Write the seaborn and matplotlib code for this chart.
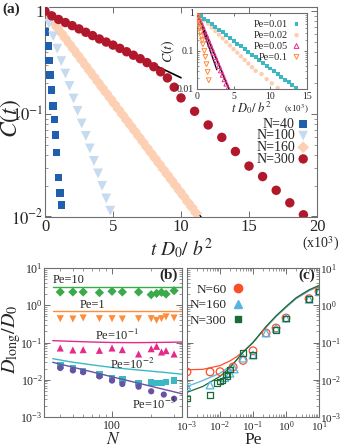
import seaborn as sns
import matplotlib.pyplot as plt
from matplotlib.lines import Line2D
from matplotlib.ticker import FixedLocator, FixedFormatter, LogLocator, NullFormatter, MultipleLocator

# --- panel (a): C(t) vs t D0/b^2 (x10^3) ---
T40 = [0, 0.05, 0.2, 0.29, 0.37, 0.49, 0.61, 0.69, 0.78, 0.86, 0.98, 1.1, 1.2]
C40 = [1.0, 0.63, 0.46, 0.33, 0.24, 0.17, 0.12, 0.088, 0.062, 0.042, 0.024, 0.017, 0.013]

T100 = [0, 0.3, 0.6, 0.9, 1.2, 1.5, 1.8, 2.1, 2.4, 2.7, 3.0, 3.3, 3.6, 3.9, 4.2, 4.5, 4.8]
C100 = [1.0, 0.756, 0.571, 0.432, 0.327, 0.247, 0.187, 0.141, 0.107, 0.0806, 0.061,
        0.0461, 0.0348, 0.0263, 0.0199, 0.015, 0.0114]

T160 = [0, 0.3, 0.6, 0.9, 1.2, 1.5, 1.8, 2.1, 2.4, 2.7, 3.0, 3.3, 3.6, 3.9, 4.2, 4.5,
        4.8, 5.1, 5.4, 5.7, 6.0, 6.3, 6.6, 6.9, 7.2, 7.5, 7.8, 8.1, 8.4, 8.7, 9.0, 9.3,
        9.6, 9.9, 10.2, 10.5, 10.8, 11.1]
C160 = [1.0, 0.885, 0.783, 0.693, 0.613, 0.543, 0.48, 0.425, 0.376, 0.333, 0.294, 0.26,
        0.2305, 0.204, 0.1805, 0.1598, 0.1414, 0.1251, 0.1107, 0.098, 0.0867, 0.0767,
        0.0679, 0.0601, 0.0532, 0.047, 0.0416, 0.0368, 0.0326, 0.0288, 0.0255, 0.0226,
        0.02, 0.0177, 0.0157, 0.0138, 0.0123, 0.0108]

T300 = [0, 0.5, 1, 1.5, 2, 2.5, 3, 3.5, 4, 4.5, 5, 5.5, 6, 6.5, 7, 7.5, 8, 8.5, 9, 9.5,
        10, 11, 12, 13, 14, 15, 16, 17, 18, 19]
C300 = [1.0, 0.902, 0.832, 0.776, 0.724, 0.673, 0.624, 0.579, 0.537, 0.501, 0.468, 0.435,
        0.403, 0.373, 0.345, 0.316, 0.288, 0.257, 0.224, 0.182, 0.143, 0.106, 0.078,
        0.059, 0.043, 0.031, 0.0245, 0.018, 0.0136, 0.0104]

FIT160_T = [0, 11.6]
FIT160_C = [1.0, 0.0094]
FIT300_T = [0, 10]
FIT300_C = [0.965, 0.225]

# --- inset: different Pe at fixed N ---
TI01 = [0, 0.5, 1, 1.5, 2, 2.5, 3, 3.5, 4, 4.5, 5, 5.5, 6, 6.5, 7, 7.5, 8, 8.5, 9, 9.5,
        10, 10.5, 11, 11.5, 12, 12.5, 13, 13.5, 14]
CI01 = [1.0, 0.845, 0.714, 0.604, 0.511, 0.432, 0.365, 0.308, 0.261, 0.22, 0.186, 0.157,
        0.133, 0.112, 0.0951, 0.0804, 0.0679, 0.0574, 0.0485, 0.041, 0.0347, 0.0293,
        0.0248, 0.0209, 0.0177, 0.015, 0.0126, 0.0107, 0.009]
TI02 = [0, 0.5, 1, 1.5, 2, 2.5, 3, 3.5, 4, 4.5, 5, 5.5, 6, 6.5, 7, 7.5, 8, 8.8, 9.5,
        10.2, 11.0]
CI02 = [1.0, 0.804, 0.646, 0.519, 0.417, 0.335, 0.269, 0.216, 0.174, 0.14, 0.112, 0.0902,
        0.0724, 0.0582, 0.0468, 0.0376, 0.0302, 0.0248, 0.0182, 0.0141, 0.0107]
TI05 = [0, 0.25, 0.5, 0.75, 1, 1.25, 1.5, 1.75, 2, 2.25, 2.5, 2.75, 3, 3.25, 3.5, 3.75,
        4, 4.25]
CI05 = [1.0, 0.765, 0.585, 0.448, 0.343, 0.262, 0.201, 0.154, 0.117, 0.0899, 0.0688,
        0.0526, 0.0403, 0.0308, 0.0236, 0.018, 0.0138, 0.0106]
TI10 = [0, 0.1, 0.2, 0.3, 0.4, 0.5, 0.6, 0.7, 0.8, 1.0, 1.15, 1.3, 1.45, 1.6]
CI10 = [1.0, 0.8, 0.64, 0.5, 0.4, 0.31, 0.24, 0.19, 0.15, 0.1, 0.07, 0.045, 0.028, 0.017]
FITI_T1 = [0, 2.7]
FITI_C1 = [1.0, 0.032]
FITI_T2 = [0, 4.5]
FITI_C2 = [1.0, 0.0085]

# --- panel (b): D_long/D0 vs N ---
NB = [40, 50, 60, 80, 100, 120, 160, 200, 220, 240, 260, 300]
B_PE10 = [2.27, 2.27, 2.27, 2.18, 2.37, 2.27, 2.27, 1.92, 2.08, 2.22, 2.0, 2.46]
B_PE1 = [0.436, 0.427, 0.455, 0.436, 0.436, 0.427, 0.436, 0.436, 0.394, 0.436, 0.487, 0.455]
B_PE01 = [0.0711, 0.0629, 0.0642, 0.0616, 0.0711, 0.0642, 0.0491, 0.068, 0.0789, 0.0556,
          0.0604, 0.0491]
B_PE001 = [0.0245, 0.02, 0.017, 0.0138, 0.0107, 0.01, 0.0082, 0.0084, 0.0082, 0.0082,
           0.0088, 0.0095]
NB3 = [40, 50, 60, 80, 100, 120, 160, 200, 250, 300]
B_PE0001 = [0.0207, 0.0178, 0.016, 0.0123, 0.0095, 0.0077, 0.0065, 0.0049, 0.004, 0.0031]

NB_LINE = [35, 50, 70, 100, 150, 200, 250, 300, 345]
L_PE10 = [3.1, 3.1, 3.1, 3.1, 3.1, 3.1, 3.1, 3.1, 3.1]
L_PE1 = [0.69, 0.69, 0.69, 0.69, 0.69, 0.69, 0.69, 0.69, 0.69]
L_PE01 = [0.112, 0.107, 0.103, 0.1, 0.099, 0.1, 0.101, 0.102, 0.103]
L_PE001 = [0.0368, 0.0295, 0.0251, 0.0214, 0.0186, 0.017, 0.0158, 0.0148, 0.0141]
L_PE0001 = [0.0294, 0.0217, 0.0163, 0.012, 0.00853, 0.00668, 0.00552, 0.00473, 0.0042]

# --- panel (c): D_long/D0 vs Pe ---
PE60 = [0.001, 0.005, 0.01, 0.025, 0.05, 0.1, 0.25, 0.5, 1, 5, 10]
C_N60 = [0.0162, 0.0162, 0.0165, 0.022, 0.033, 0.06, 0.18, 0.245, 0.455, 1.5, 2.37]
PE160 = [0.001, 0.005, 0.014, 0.02, 0.027, 0.05, 0.1, 0.25, 0.5, 1, 5, 10]
C_N160 = [0.0065, 0.0072, 0.0114, 0.015, 0.0195, 0.038, 0.046, 0.18, 0.24, 0.45, 1.45, 2.3]
PE300 = [0.001, 0.005, 0.008, 0.01, 0.012, 0.015, 0.017, 0.02, 0.05, 0.1, 0.5, 1, 5, 10]
C_N300 = [0.0031, 0.0039, 0.0082, 0.009, 0.0095, 0.014, 0.0125, 0.0186, 0.052, 0.046,
          0.22, 0.44, 1.45, 2.35]

PE_LINE = [0.001, 0.003, 0.01, 0.02, 0.03, 0.05, 0.1, 0.25, 0.5, 1, 2, 5, 10]
LC_N60 = [0.0186, 0.019, 0.024, 0.032, 0.04, 0.056, 0.1, 0.26, 0.5, 0.88, 1.5, 2.47, 3.25]
LC_N160 = [0.0066, 0.0095, 0.015, 0.023, 0.032, 0.055, 0.1, 0.26, 0.5, 0.88, 1.5, 2.47, 3.25]
LC_N300 = [0.0046, 0.0066, 0.0123, 0.021, 0.032, 0.055, 0.1, 0.27, 0.52, 0.92, 1.58, 2.6, 3.4]

# colours
COL = {
    "N40": "#1f5fae", "N100": "#c6dbef", "N160": "#fdd0b4", "N300": "#b2182b",
    "pe01": "#3bb8c4", "pe02": "#fdcdb0", "pe05": "#e7298a", "pe1": "#fd8d3c",
    "pe10": "#3aaa4a", "pe0001": "#6a51a3",
    "c60": "#fc4e2a", "c160": "#56b4e0", "c300": "#1b6b38",
}
FRAME = "#6e6e6e"

sns.set_style("ticks")
plt.rcParams["font.family"] = ["Liberation Serif", "DejaVu Serif"]
plt.rcParams["mathtext.fontset"] = "stix"


def frame(ax, size=10):
    for s in ax.spines.values():
        s.set_color(FRAME)
        s.set_linewidth(0.8)
    ax.tick_params(which="both", direction="in", top=True, right=True,
                   color=FRAME, labelsize=size, pad=2)
    ax.tick_params(which="major", length=4, width=0.7)
    ax.tick_params(which="minor", length=2, width=0.5)


fig = plt.figure(figsize=(3.41, 4.47), dpi=100)
W, H = 341, 447
ax_a = fig.add_axes([45 / W, 1 - 216.5 / H, 272 / W, 209.5 / H])
ax_in = fig.add_axes([197 / W, 1 - 89 / H, 110 / W, 76 / H])
ax_b = fig.add_axes([44 / W, 1 - 417 / H, 138 / W, 149 / H])
ax_c = fig.add_axes([187 / W, 1 - 417 / H, 132 / W, 149 / H])

# ---- (a)
ax_a.set_yscale("log")
sns.lineplot(x=FIT160_T, y=FIT160_C, ax=ax_a, color="black", lw=1, estimator=None)
sns.lineplot(x=FIT300_T, y=FIT300_C, ax=ax_a, color="black", lw=1.2, estimator=None)
sns.scatterplot(x=T40, y=C40, ax=ax_a, marker="s", s=30, color=COL["N40"],
                edgecolor="none", label="N=40", zorder=3)
sns.scatterplot(x=T100, y=C100, ax=ax_a, marker="v", s=50, color=COL["N100"],
                edgecolor="none", label="N=100", zorder=3)
sns.scatterplot(x=T160, y=C160, ax=ax_a, marker="D", s=36, color=COL["N160"],
                edgecolor="none", label="N=160", zorder=2)
sns.scatterplot(x=T300, y=C300, ax=ax_a, marker="o", s=46, color=COL["N300"],
                edgecolor="none", label="N=300", zorder=3)
ax_a.set_xlim(0, 20)
ax_a.set_ylim(0.01, 1.1)
ax_a.yaxis.set_major_locator(FixedLocator([0.01, 0.1, 1]))
ax_a.yaxis.set_major_formatter(FixedFormatter([r"$10^{-2}$", r"$10^{-1}$", "1"]))
ax_a.yaxis.set_minor_locator(LogLocator(subs=range(2, 10)))
ax_a.yaxis.set_minor_formatter(NullFormatter())
ax_a.xaxis.set_major_locator(MultipleLocator(5))
frame(ax_a, 12)
ax_a.tick_params(axis="y", pad=1)
ax_a.set_ylabel(r"$C(t)$", fontsize=17)
ax_a.yaxis.set_label_coords(-0.08, 0.47)
ax_a.set_xlabel(r"$t\ D_0/\ b^2$", fontsize=14, labelpad=1)
ax_a.legend(loc="lower right", bbox_to_anchor=(0.99, 0.21), markerfirst=False,
            frameon=False, fontsize=10, handletextpad=0.3, labelspacing=-0.1,
            handlelength=0.6, borderpad=0)
fig.text(0.995, 1 - 244 / H, r"(x10$^3$)", ha="right", va="center", fontsize=10)
fig.text(0.008, 1 - 9 / H, "(a)", ha="left", va="center", fontsize=11, weight="bold")

# ---- inset
ax_in.set_yscale("log")
sns.lineplot(x=FITI_T1, y=FITI_C1, ax=ax_in, color="black", lw=0.9, estimator=None)
sns.lineplot(x=FITI_T2, y=FITI_C2, ax=ax_in, color="black", lw=0.9, estimator=None)
sns.scatterplot(x=TI01, y=CI01, ax=ax_in, marker="s", s=8, color=COL["pe01"],
                edgecolor="none", label="Pe=0.01", zorder=3)
sns.scatterplot(x=TI02, y=CI02, ax=ax_in, marker="o", s=10, color=COL["pe02"],
                edgecolor="none", label="Pe=0.02", zorder=2)
sns.scatterplot(x=TI05, y=CI05, ax=ax_in, marker="^", s=12, color=COL["pe05"],
                facecolor="none", edgecolor=COL["pe05"], linewidth=0.7,
                label="Pe=0.05", zorder=3)
sns.scatterplot(x=TI10, y=CI10, ax=ax_in, marker="v", s=12, color=COL["pe1"],
                facecolor="none", edgecolor=COL["pe1"], linewidth=0.7,
                label="Pe=0.1", zorder=3)
ax_in.set_xlim(0, 15)
ax_in.set_ylim(0.01, 1)
ax_in.yaxis.set_major_locator(FixedLocator([0.01, 0.1, 1]))
ax_in.yaxis.set_major_formatter(FixedFormatter(["0.01", "0.1", "1"]))
ax_in.yaxis.set_minor_locator(LogLocator(subs=range(2, 10)))
ax_in.yaxis.set_minor_formatter(NullFormatter())
ax_in.xaxis.set_major_locator(MultipleLocator(5))
frame(ax_in, 7)
ax_in.tick_params(which="major", length=2.5)
ax_in.tick_params(which="minor", length=1.5)
ax_in.set_ylabel(r"$C(t)$", fontsize=10, labelpad=0)
ax_in.set_xlabel(r"$t\ D_0/\ b^2$", fontsize=9, labelpad=-1)
ax_in.text(1.02, -0.27, r"(x10$^3$)", transform=ax_in.transAxes, ha="right",
           va="center", fontsize=6.5)
ax_in.legend(loc="upper right", bbox_to_anchor=(0.99, 0.98), markerfirst=False,
             frameon=False, fontsize=7.5, handletextpad=0.4, labelspacing=0.15,
             handlelength=0.8, borderpad=0)

# ---- (b)
ax_b.set_xscale("log")
ax_b.set_yscale("log")
for ly, c in [(L_PE10, "pe10"), (L_PE1, "pe1"), (L_PE01, "pe05"),
              (L_PE001, "pe01"), (L_PE0001, "pe0001")]:
    sns.lineplot(x=NB_LINE, y=ly, ax=ax_b, color=COL[c], lw=1, estimator=None)
sns.scatterplot(x=NB, y=B_PE10, ax=ax_b, marker="D", s=22, color=COL["pe10"], edgecolor="none")
sns.scatterplot(x=NB, y=B_PE1, ax=ax_b, marker="v", s=26, color=COL["pe1"], edgecolor="none")
sns.scatterplot(x=NB, y=B_PE01, ax=ax_b, marker="^", s=26, color=COL["pe05"], edgecolor="none")
sns.scatterplot(x=NB, y=B_PE001, ax=ax_b, marker="s", s=22, color=COL["pe01"], edgecolor="none")
sns.scatterplot(x=NB3, y=B_PE0001, ax=ax_b, marker="o", s=20, color=COL["pe0001"], edgecolor="none")
ax_b.set_xlim(30, 345)
ax_b.set_ylim(1e-3, 10)
ax_b.xaxis.set_major_locator(FixedLocator([100]))
ax_b.xaxis.set_major_formatter(FixedFormatter(["100"]))
ax_b.xaxis.set_minor_locator(LogLocator(subs=range(2, 10)))
ax_b.xaxis.set_minor_formatter(NullFormatter())
ax_b.yaxis.set_major_locator(LogLocator(numticks=10))
ax_b.yaxis.set_minor_locator(LogLocator(subs=range(2, 10), numticks=10))
ax_b.yaxis.set_minor_formatter(NullFormatter())
frame(ax_b, 8.5)
ax_b.tick_params(axis="y", pad=1)
ax_b.set_xlabel(r"$N$", fontsize=12.5)
ax_b.xaxis.set_label_coords(0.5, -0.1)
ax_b.set_ylabel(r"$D_{\rm long}/D_0$", fontsize=14.5)
ax_b.yaxis.set_label_coords(-0.155, 0.52)
for txt, xf, yf in [("Pe=10", 0.18, 0.92), ("Pe=1", 0.348, 0.752),
                    (r"Pe=10$^{-1}$", 0.53, 0.55), (r"Pe=10$^{-2}$", 0.64, 0.35),
                    (r"Pe=10$^{-3}$", 0.80, 0.085)]:
    ax_b.text(xf, yf, txt, transform=ax_b.transAxes, ha="center", va="center", fontsize=9)
ax_b.text(0.97, 0.95, "(b)", transform=ax_b.transAxes, ha="right", va="center",
          fontsize=11, weight="bold")

# ---- (c)
ax_c.set_xscale("log")
ax_c.set_yscale("log")
sns.lineplot(x=PE_LINE, y=LC_N60, ax=ax_c, color=COL["c60"], lw=0.9, estimator=None)
sns.lineplot(x=PE_LINE, y=LC_N160, ax=ax_c, color=COL["c160"], lw=0.9, estimator=None)
sns.lineplot(x=PE_LINE, y=LC_N300, ax=ax_c, color=COL["c300"], lw=0.9, estimator=None)
sns.scatterplot(x=PE60, y=C_N60, ax=ax_c, marker="o", s=30, color=COL["c60"],
                facecolor="none", edgecolor=COL["c60"], linewidth=0.9, zorder=3)
sns.scatterplot(x=PE160, y=C_N160, ax=ax_c, marker="^", s=30, color=COL["c160"],
                facecolor="none", edgecolor=COL["c160"], linewidth=0.9, zorder=3)
sns.scatterplot(x=PE300, y=C_N300, ax=ax_c, marker="s", s=16, color=COL["c300"],
                facecolor="none", edgecolor=COL["c300"], linewidth=0.9, zorder=3)
ax_c.set_xlim(1e-3, 10)
ax_c.set_ylim(1e-3, 10)
ax_c.xaxis.set_major_locator(LogLocator(numticks=10))
ax_c.xaxis.set_minor_locator(LogLocator(subs=range(2, 10), numticks=10))
ax_c.xaxis.set_minor_formatter(NullFormatter())
ax_c.yaxis.set_major_locator(LogLocator(numticks=10))
ax_c.yaxis.set_minor_locator(LogLocator(subs=range(2, 10), numticks=10))
ax_c.yaxis.set_minor_formatter(NullFormatter())
frame(ax_c, 8)
ax_c.tick_params(labelleft=False, labelright=True)
ax_c.tick_params(axis="y", pad=1)
ax_c.set_xlabel("Pe", fontsize=12.5)
ax_c.xaxis.set_label_coords(0.5, -0.1)
ax_c.text(0.97, 0.95, "(c)", transform=ax_c.transAxes, ha="right", va="center",
          fontsize=11, weight="bold")
# legend with filled markers
hands = [Line2D([], [], ls="none", marker="o", ms=6, color=COL["c60"]),
         Line2D([], [], ls="none", marker="^", ms=6, color=COL["c160"]),
         Line2D([], [], ls="none", marker="s", ms=4, color=COL["c300"])]
ax_c.legend(hands, ["N=60", "N=160", "N=300"], loc="upper right",
            bbox_to_anchor=(0.48, 0.94), markerfirst=False, frameon=False,
            fontsize=9.5, handletextpad=0.5, labelspacing=0.25, handlelength=0.8,
            borderpad=0)

fig.savefig("out.png", dpi=100)
